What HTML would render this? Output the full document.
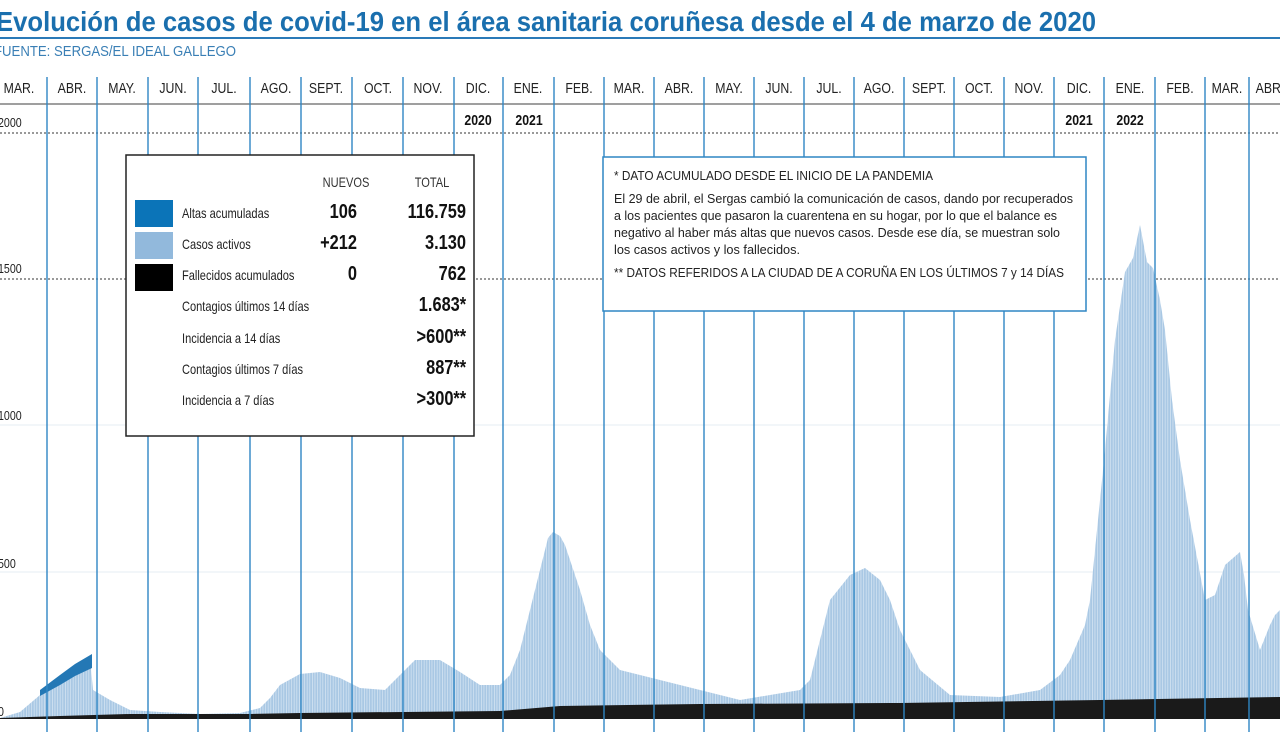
<!DOCTYPE html>
<html><head><meta charset="utf-8"><style>
body{margin:0;background:#fff;}
svg text{font-family:"Liberation Sans",sans-serif;}
.l{transform-box:fill-box;transform-origin:0 0;transform:scaleX(.82)}
.r{transform-box:fill-box;transform-origin:100% 0;transform:scaleX(.82)}
.c{transform-box:fill-box;transform-origin:50% 0;transform:scaleX(.82)}
</style></head><body>
<svg width="1280" height="732" viewBox="0 0 1280 732" xmlns="http://www.w3.org/2000/svg">
<defs>
<pattern id="stripes" width="2.6" height="10" patternUnits="userSpaceOnUse">
<rect width="2.6" height="10" fill="#a9c8e4"/><rect width="0.7" height="10" fill="#d8e6f3"/>
</pattern>
</defs>
<rect width="1280" height="732" fill="#fff"/>
<text x="-4" y="31" font-size="28" font-weight="bold" fill="#1a6fae" textLength="1100" lengthAdjust="spacingAndGlyphs">Evolución de casos de covid-19 en el área sanitaria coruñesa desde el 4 de marzo de 2020</text>
<rect x="0" y="37" width="1280" height="2" fill="#2a7ab8"/>
<text x="-6" y="56" font-size="15" fill="#3a7fb5" textLength="242" lengthAdjust="spacingAndGlyphs">FUENTE: SERGAS/EL IDEAL GALLEGO</text>
<line x1="0" y1="104" x2="1280" y2="104" stroke="#666" stroke-width="1.3"/>
<line x1="0" y1="133" x2="1280" y2="133" stroke="#333" stroke-width="1" stroke-dasharray="2,2"/>
<line x1="0" y1="279" x2="1280" y2="279" stroke="#333" stroke-width="1" stroke-dasharray="2,2"/>
<line x1="0" y1="425" x2="1280" y2="425" stroke="#e6edf3" stroke-width="1"/>
<line x1="0" y1="572" x2="1280" y2="572" stroke="#e6edf3" stroke-width="1"/>
<g font-size="13" fill="#222">
<text class="l" x="-2" y="127">2000</text><text class="l" x="-2" y="273">1500</text><text class="l" x="-2" y="420">1000</text><text class="l" x="-2" y="568">500</text><text class="l" x="-2" y="716">0</text>
</g>
<polygon fill="url(#stripes)" points="0,718 20,712 40,695 60,680 90,657 93,690 110,700 130,710 160,712 200,714 240,713 260,708 270,698 280,685 300,674 320,672 340,678 360,688 385,690 400,675 415,660 440,660 460,672 480,685 500,685 510,675 520,650 530,610 540,570 548,538 553,532 560,536 565,545 580,590 590,625 600,650 620,670 660,680 700,690 740,700 770,695 800,690 810,680 815,660 830,600 850,575 865,568 880,580 890,600 900,630 920,670 950,695 1000,697 1040,690 1060,675 1070,660 1085,625 1090,600 1100,500 1105,450 1115,340 1125,272 1133,258 1140,225 1147,262 1153,268 1160,300 1165,330 1172,400 1180,460 1190,520 1205,600 1215,595 1225,565 1240,552 1244,575 1248,610 1260,650 1270,625 1275,615 1280,610 1280,718"/>
<polygon fill="#2478b5" points="40,690 60,675 75,664 92,654 92,668 75,676 60,685 40,696"/>
<polygon fill="#1a1a1a" points="0,718 60,716 130,714 250,714 300,713 500,711 560,706 700,704 900,703 1100,700 1280,697 1280,719 0,719"/>
<g stroke="#2f86c4" stroke-width="1.4">
<line x1="47" y1="77" x2="47" y2="732"/><line x1="97" y1="77" x2="97" y2="732"/><line x1="148" y1="77" x2="148" y2="732"/><line x1="198" y1="77" x2="198" y2="732"/><line x1="250" y1="77" x2="250" y2="732"/><line x1="301" y1="77" x2="301" y2="732"/><line x1="352" y1="77" x2="352" y2="732"/><line x1="403" y1="77" x2="403" y2="732"/><line x1="454" y1="77" x2="454" y2="732"/><line x1="503" y1="77" x2="503" y2="732"/><line x1="554" y1="77" x2="554" y2="732"/><line x1="604" y1="77" x2="604" y2="732"/><line x1="654" y1="77" x2="654" y2="732"/><line x1="704" y1="77" x2="704" y2="732"/><line x1="754" y1="77" x2="754" y2="732"/><line x1="804" y1="77" x2="804" y2="732"/><line x1="854" y1="77" x2="854" y2="732"/><line x1="904" y1="77" x2="904" y2="732"/><line x1="954" y1="77" x2="954" y2="732"/><line x1="1004" y1="77" x2="1004" y2="732"/><line x1="1054" y1="77" x2="1054" y2="732"/><line x1="1104" y1="77" x2="1104" y2="732"/><line x1="1155" y1="77" x2="1155" y2="732"/><line x1="1205" y1="77" x2="1205" y2="732"/><line x1="1249" y1="77" x2="1249" y2="732"/>
</g>
<g font-size="15" fill="#222" text-anchor="middle">
<text class="c" x="19" y="93">MAR.</text><text class="c" x="72" y="93">ABR.</text><text class="c" x="122" y="93">MAY.</text><text class="c" x="173" y="93">JUN.</text><text class="c" x="224" y="93">JUL.</text><text class="c" x="276" y="93">AGO.</text><text class="c" x="326" y="93">SEPT.</text><text class="c" x="378" y="93">OCT.</text><text class="c" x="428" y="93">NOV.</text><text class="c" x="478" y="93">DIC.</text><text class="c" x="528" y="93">ENE.</text><text class="c" x="579" y="93">FEB.</text><text class="c" x="629" y="93">MAR.</text><text class="c" x="679" y="93">ABR.</text><text class="c" x="729" y="93">MAY.</text><text class="c" x="779" y="93">JUN.</text><text class="c" x="829" y="93">JUL.</text><text class="c" x="879" y="93">AGO.</text><text class="c" x="929" y="93">SEPT.</text><text class="c" x="979" y="93">OCT.</text><text class="c" x="1029" y="93">NOV.</text><text class="c" x="1079" y="93">DIC.</text><text class="c" x="1130" y="93">ENE.</text><text class="c" x="1180" y="93">FEB.</text><text class="c" x="1227" y="93">MAR.</text><text class="c" x="1270" y="93">ABR.</text>
</g>
<g font-size="15" font-weight="bold" fill="#111" text-anchor="middle">
<text class="c" x="478" y="125">2020</text><text class="c" x="529" y="125">2021</text><text class="c" x="1079" y="125">2021</text><text class="c" x="1130" y="125">2022</text>
</g>
<rect x="126" y="155" width="348" height="281" fill="#fff" stroke="#222" stroke-width="1.5"/>
<text class="c" x="346" y="187" font-size="13.5" fill="#333" text-anchor="middle">NUEVOS</text>
<text class="c" x="432" y="187" font-size="13.5" fill="#333" text-anchor="middle">TOTAL</text>
<rect x="135" y="200" width="38" height="27" fill="#0b74b8"/>
<rect x="135" y="232" width="38" height="27" fill="#92b9dc"/>
<rect x="135" y="264" width="38" height="27" fill="#000"/>
<g font-size="13.5" fill="#222">
<text class="l" x="182" y="218">Altas acumuladas</text><text class="l" x="182" y="249">Casos activos</text><text class="l" x="182" y="280">Fallecidos acumulados</text><text class="l" x="182" y="311">Contagios últimos 14 días</text><text class="l" x="182" y="343">Incidencia a 14 días</text><text class="l" x="182" y="374">Contagios últimos 7 días</text><text class="l" x="182" y="405">Incidencia a 7 días</text>
</g>
<g font-size="20" font-weight="bold" fill="#111" text-anchor="end">
<text class="r" x="357" y="218">106</text><text class="r" x="357" y="249">+212</text><text class="r" x="357" y="280">0</text>
<text class="r" x="466" y="218">116.759</text><text class="r" x="466" y="249">3.130</text><text class="r" x="466" y="280">762</text><text class="r" x="466" y="311">1.683*</text><text class="r" x="466" y="343">&gt;600**</text><text class="r" x="466" y="374">887**</text><text class="r" x="466" y="405">&gt;300**</text>
</g>
<rect x="603" y="157" width="483" height="154" fill="#fff" stroke="#2f86c4" stroke-width="1.5"/>
<g font-size="13.3" fill="#222">
<text x="614" y="180" textLength="319" lengthAdjust="spacingAndGlyphs">* DATO ACUMULADO DESDE EL INICIO DE LA PANDEMIA</text>
<text x="614" y="203" textLength="459" lengthAdjust="spacingAndGlyphs">El 29 de abril, el Sergas cambió la comunicación de casos, dando por recuperados</text>
<text x="614" y="220" textLength="443" lengthAdjust="spacingAndGlyphs">a los pacientes que pasaron la cuarentena en su hogar, por lo que el balance es</text>
<text x="614" y="237" textLength="446" lengthAdjust="spacingAndGlyphs">negativo al haber más altas que nuevos casos. Desde ese día, se muestran solo</text>
<text x="614" y="254" textLength="186" lengthAdjust="spacingAndGlyphs">los casos activos y los fallecidos.</text>
<text x="614" y="277" textLength="450" lengthAdjust="spacingAndGlyphs">** DATOS REFERIDOS A LA CIUDAD DE A CORUÑA EN LOS ÚLTIMOS 7 y 14 DÍAS</text>
</g>
</svg>
</body></html>
